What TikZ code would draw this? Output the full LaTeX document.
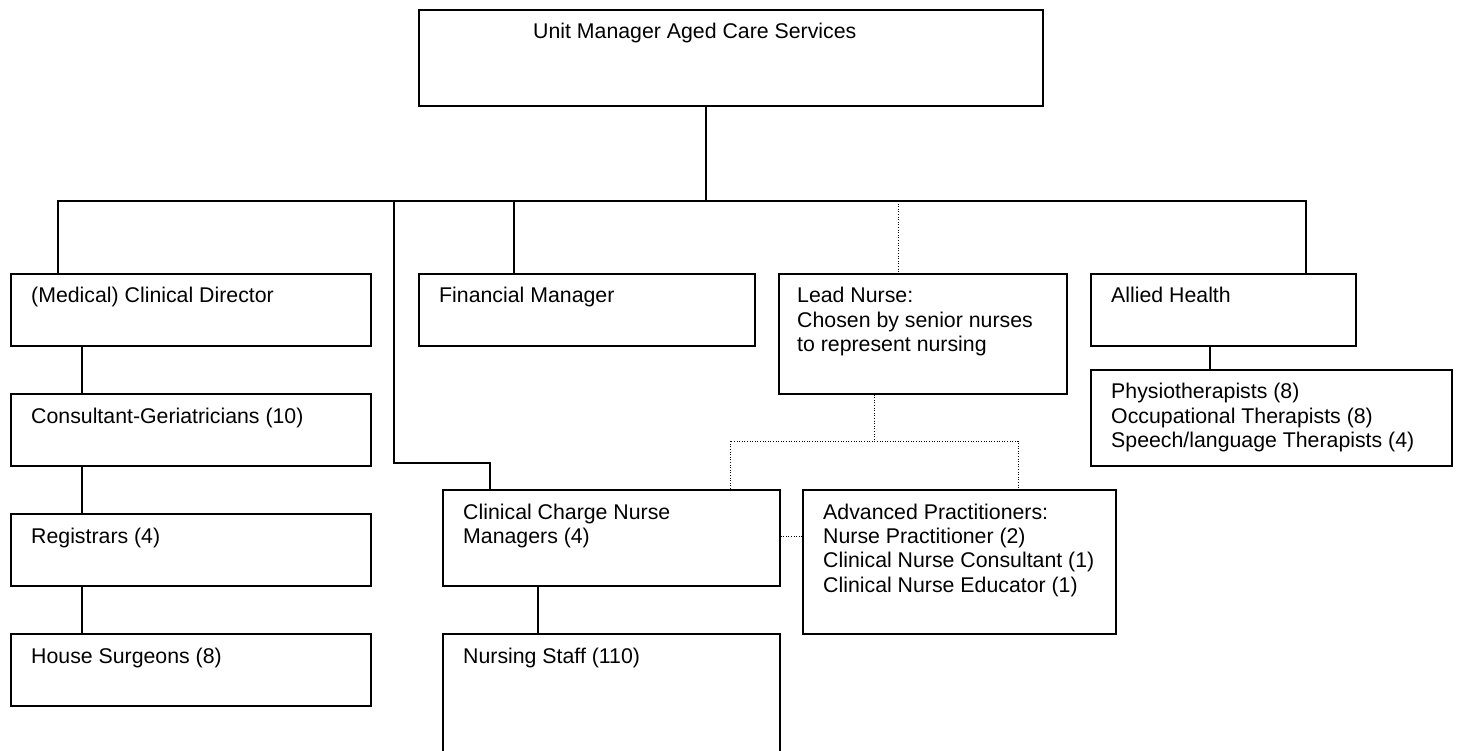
\documentclass[tikz,border=0pt]{standalone}
\usepackage{fontspec}
\setmainfont{Liberation Sans}
\usetikzlibrary{calc}
\begin{document}
\begin{tikzpicture}[x=1pt,y=-1pt,
  box/.style={draw,line width=1.6pt,rectangle,anchor=north west,inner sep=0pt},
  txt/.style={anchor=base west,inner sep=0pt,font=\fontsize{21.3}{24.4}\selectfont},
  link/.style={line width=1.6pt},
  dotlink/.style={line width=1pt,dash pattern=on 1pt off 1.6pt}]
\useasboundingbox[fill=white] (0,0) rectangle (1457,751);
\begin{scope}
\clip (0,0) rectangle (1457,751);
% boxes: position of north-west corner, width and height
\node[box,minimum width=624,minimum height=96] (um) at (418,9) {};
\node[box,minimum width=360,minimum height=72] (cd) at (10,273) {};
\node[box,minimum width=360,minimum height=72] (cg) at (10,393) {};
\node[box,minimum width=360,minimum height=72] (rg) at (10,513) {};
\node[box,minimum width=360,minimum height=72] (hs) at (10,633) {};
\node[box,minimum width=336,minimum height=72] (fm) at (418,273) {};
\node[box,minimum width=288,minimum height=120] (ln) at (778,273) {};
\node[box,minimum width=265,minimum height=72] (ah) at (1090,273) {};
\node[box,minimum width=361,minimum height=96] (at) at (1090,369) {};
\node[box,minimum width=337,minimum height=96] (cc) at (442,489) {};
\node[box,minimum width=337,minimum height=140] (ns) at (442,633) {};
\node[box,minimum width=313,minimum height=144] (ap) at (802,489) {};
\end{scope}

% texts, first baseline 30pt below the top edge of each box
\node[txt] (umt) at ($(um.north west)+(115,30)$) {Unit Manager Aged Care Services};
\node[txt] (cdt) at ($(cd.north west)+(21,30)$) {(Medical) Clinical Director};
\node[txt] (cgt) at ($(cg.north west)+(21,30)$) {Consultant-Geriatricians (10)};
\node[txt] (rgt) at ($(rg.north west)+(21,30)$) {Registrars (4)};
\node[txt] (hst) at ($(hs.north west)+(21,30)$) {House Surgeons (8)};
\node[txt] (fmt) at ($(fm.north west)+(21,30)$) {Financial Manager};
\node[txt] (lnt) at ($(ln.north west)+(19,30)$) {\vtop{\hbox{Lead Nurse:}\hbox{Chosen by senior nurses}\hbox{to represent nursing}}};
\node[txt] (aht) at ($(ah.north west)+(21,30)$) {Allied Health};
\node[txt] (att) at ($(at.north west)+(21,30)$) {\vtop{\hbox{Physiotherapists (8)}\hbox{Occupational Therapists (8)}\hbox{Speech/language Therapists (4)}}};
\node[txt] (cct) at ($(cc.north west)+(21,30)$) {\vtop{\hbox{Clinical Charge Nurse}\hbox{Managers (4)}}};
\node[txt] (nst) at ($(ns.north west)+(21,30)$) {Nursing Staff (110)};
\node[txt] (apt) at ($(ap.north west)+(21,30)$) {\vtop{\hbox{Advanced Practitioners:}\hbox{Nurse Practitioner (2)}\hbox{Clinical Nurse Consultant (1)}\hbox{Clinical Nurse Educator (1)}}};

% solid reporting lines
\coordinate (bus) at (706,201);
\coordinate (busL) at (58,201);
\coordinate (busR) at (1306,201);
\coordinate (fmx) at (514,201);
\coordinate (j0) at (394,201);
\coordinate (j1) at (394,463);
\coordinate (j2) at (490,463);
\coordinate (lc) at (82,0);
\coordinate (nsx) at (538,0);
\coordinate (ahx) at (1210,0);
\draw[link] (um.south -| bus) -- (bus);
\draw[link] (cd.north -| busL) -- (busL) -- (busR) -- (ah.north -| busR);
\draw[link] (fmx) -- (fm.north -| fmx);
\draw[link] (j0) -- (j1) -- (j2) -- (cc.north -| j2);
\draw[link] (cd.south -| lc) -- (cg.north -| lc);
\draw[link] (cg.south -| lc) -- (rg.north -| lc);
\draw[link] (rg.south -| lc) -- (hs.north -| lc);
\draw[link] (cc.south -| nsx) -- (ns.north -| nsx);
\draw[link] (ah.south -| ahx) -- (at.north -| ahx);

% dotted lines
\coordinate (d0) at (898,201);
\coordinate (lnj) at (874,441);
\coordinate (dl) at (730,441);
\coordinate (dr) at (1018,441);
\coordinate (mid) at (0,536);
\draw[dotlink] (d0) -- (ln.north -| d0);
\draw[dotlink] (ln.south -| lnj) -- (lnj);
\draw[dotlink] (cc.north -| dl) -- (dl) -- (dr) -- (ap.north -| dr);
\draw[dotlink] (cc.east |- mid) -- (ap.west |- mid);
\end{tikzpicture}
\end{document}
